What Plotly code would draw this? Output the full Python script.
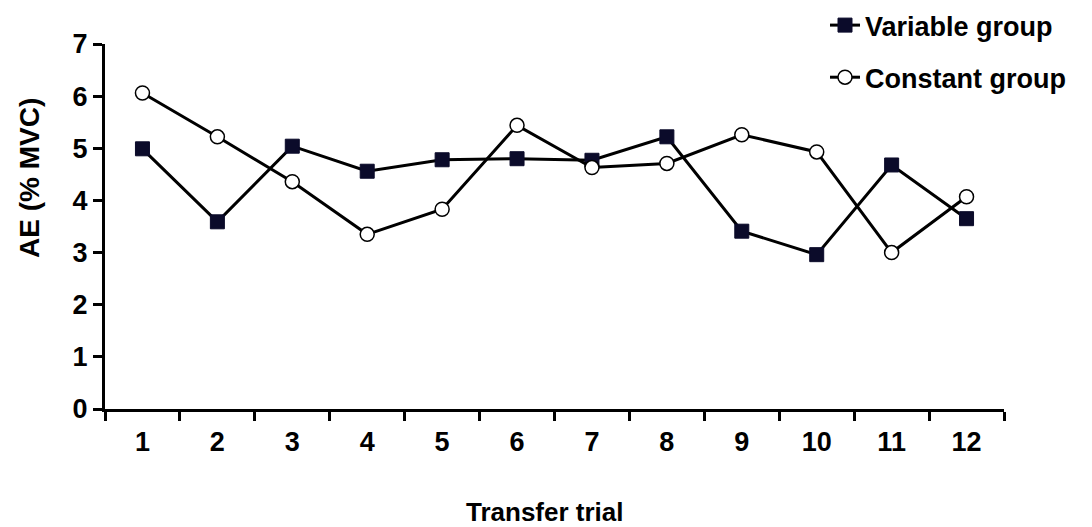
import plotly.graph_objects as go

trials = [str(i) for i in range(1, 13)]
variable_group = [4.99, 3.59, 5.04, 4.56, 4.78, 4.80, 4.77, 5.22, 3.41, 2.96, 4.68, 3.65]
constant_group = [6.06, 5.22, 4.36, 3.35, 3.83, 5.44, 4.63, 4.71, 5.26, 4.93, 3.00, 4.07]
y_ticks = [0, 1, 2, 3, 4, 5, 6, 7]

FONT = "Liberation Sans, Arial, sans-serif"
BOLD = dict(family=FONT, color="black", weight="bold")

fig = go.Figure()
fig.add_trace(go.Scatter(
    x=trials, y=variable_group, name="Variable group", mode="lines+markers",
    legendgroup="variable",
    line=dict(color="black", width=3),
    marker=dict(symbol="square", size=14, color="#0b0b2a", line=dict(color="#0b0b2a", width=1)),
))
fig.add_trace(go.Scatter(
    x=trials, y=constant_group, name="Constant group", mode="lines+markers",
    legendgroup="constant",
    line=dict(color="black", width=3),
    marker=dict(symbol="circle", size=14, color="white", line=dict(color="black", width=1.5)),
))

fig.update_layout(
    width=1092, height=527,
    margin=dict(l=105, r=88, t=44, b=118, autoexpand=False),
    paper_bgcolor="white", plot_bgcolor="white",
    font=dict(size=27, **BOLD),
    showlegend=True,
    legend=dict(
        xref="container", yref="container",
        x=0.7555, y=0.998, xanchor="left", yanchor="top",
        font=dict(size=27, **BOLD),
        itemwidth=30, tracegroupgap=14, bgcolor="rgba(0,0,0,0)",
    ),
    xaxis=dict(
        type="category", range=[-0.5, 11.5], tickson="boundaries",
        showline=True, linecolor="black", linewidth=3,
        ticks="outside", ticklen=9, tickwidth=3, tickcolor="black",
        showgrid=False, zeroline=False, ticklabelstandoff=7,
        tickfont=dict(size=27, **BOLD),
    ),
    yaxis=dict(
        range=[0, 7], tickvals=y_ticks,
        showline=True, linecolor="black", linewidth=3,
        ticks="outside", ticklen=9, tickwidth=3, tickcolor="black",
        showgrid=False, zeroline=False,
        tickfont=dict(size=27, **BOLD),
    ),
    annotations=[
        dict(text="Transfer trial", xref="paper", yref="paper",
             x=0.489, y=-0.282, xanchor="center", yanchor="middle",
             showarrow=False, font=dict(size=26, **BOLD)),
        dict(text="AE (% MVC)", xref="paper", yref="paper", textangle=-90,
             x=-0.0834, y=0.633, xanchor="center", yanchor="middle",
             showarrow=False, font=dict(size=28, **BOLD)),
    ],
)

fig.write_html("out.html")
